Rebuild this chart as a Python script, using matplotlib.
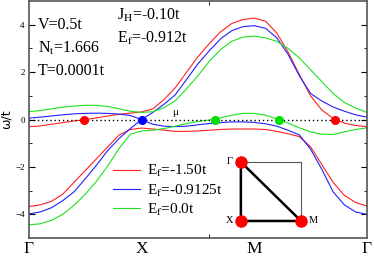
import matplotlib
matplotlib.use("Agg")
import matplotlib.pyplot as plt
from matplotlib.lines import Line2D
import numpy as np

plt.rcParams['font.family'] = ['Liberation Serif', 'DejaVu Serif']
plt.rcParams['mathtext.fontset'] = 'stix'

# k-path: Gamma=0, X=1, M=2, Gamma=3
k = [0.0, 0.1, 0.2, 0.3, 0.4, 0.5, 0.6, 0.7, 0.8, 0.9, 1.0,
     1.1, 1.2, 1.3, 1.4, 1.5, 1.6, 1.7, 1.8, 1.9, 2.0,
     2.1, 2.2, 2.3, 2.4, 2.5, 2.6, 2.7, 2.8, 2.9, 3.0]

# Ef = -1.50t
red_low = [-3.67, -3.6, -3.45, -3.15, -2.65, -2.15, -1.65, -1.15, -0.65, -0.42, -0.36,
           -0.4, -0.45, -0.5, -0.5, -0.48, -0.45, -0.42, -0.4, -0.4, -0.4,
           -0.42, -0.5, -0.6, -0.72, -1.15, -1.9, -2.65, -3.2, -3.5, -3.65]
red_up = [-0.3, -0.27, -0.2, -0.13, -0.06, 0.0, 0.07, 0.15, 0.22, 0.27, 0.32,
          0.45, 0.85, 1.35, 2.0, 2.65, 3.2, 3.7, 4.05, 4.22, 4.28,
          4.15, 3.65, 2.85, 1.9, 1.0, 0.4, 0.05, -0.15, -0.25, -0.3]
# Ef = -0.9125t
blue_a = [-3.98, -3.9, -3.72, -3.42, -3.05, -2.5, -1.92, -1.3, -0.8, -0.38, 0.0,
          0.3, 0.65, 1.05, 1.7, 2.35, 2.9, 3.4, 3.75, 3.92, 3.96,
          3.85, 3.45, 2.75, 1.85, 1.1, 0.78, 0.53, 0.35, 0.2, 0.1]
blue_b = [0.06, 0.1, 0.15, 0.2, 0.24, 0.26, 0.27, 0.26, 0.23, 0.17, 0.0,
          -0.2, -0.28, -0.3, -0.28, -0.22, -0.17, -0.13, -0.1, -0.1, -0.12,
          -0.18, -0.28, -0.45, -0.65, -1.25, -2.1, -3.05, -3.6, -3.9, -4.0]
# Ef = 0.0t
green_low = [-4.44, -4.4, -4.25, -4.0, -3.62, -3.15, -2.6, -1.95, -1.22, -0.62, -0.48,
             -0.45, -0.38, -0.28, -0.17, -0.08, -0.02, 0.07, 0.18, 0.26, 0.26,
             0.18, 0.03, -0.15, -0.35, -0.52, -0.62, -0.63, -0.52, -0.42, -0.35]
green_up = [0.33, 0.38, 0.45, 0.52, 0.57, 0.6, 0.6, 0.55, 0.45, 0.35, 0.3,
            0.33, 0.5, 0.8, 1.3, 1.85, 2.45, 2.95, 3.3, 3.48, 3.52,
            3.45, 3.3, 3.0, 2.6, 2.1, 1.6, 1.1, 0.72, 0.48, 0.3]

fermi_red = [0.49, 2.72]
fermi_blue = [1.0]
fermi_green = [1.65, 2.22]

path_labels = ['Γ', 'X', 'M', 'Γ']
path_pos = [0, 1, 2, 3]
legend_labels = [r'E$_{\rm f}$=-1.50t', r'E$_{\rm f}$=-0.9125t', r'E$_{\rm f}$=0.0t']

fig = plt.figure(figsize=(3.74, 2.61), dpi=100)
ax = fig.add_axes([0.0775, 0.088, 0.9035, 0.908])

red, blue, green = '#ff2020', '#2020ff', '#20e020'
lw = 0.8
ax.plot(k, red_low, color=red, lw=lw)
ax.plot(k, red_up, color=red, lw=lw)
ax.plot(k, blue_a, color=blue, lw=lw)
ax.plot(k, blue_b, color=blue, lw=lw)
ax.plot(k, green_low, color=green, lw=lw)
ax.plot(k, green_up, color=green, lw=lw)

ax.axhline(0, color='black', ls=(0, (1, 2)), lw=1.0)
ax.plot(fermi_red, [0] * len(fermi_red), 'o', color='#ff0000', ms=5.5, zorder=5)
ax.plot(fermi_blue, [0] * len(fermi_blue), 'o', color='#0000ff', ms=5.5, zorder=5)
ax.plot(fermi_green, [0] * len(fermi_green), 'o', color='#00e000', ms=5.5, zorder=5)

ax.set_xlim(0, 3)
ax.set_ylim(-5, 5)
ax.set_yticks([-4, -2, 0, 2, 4])
ax.set_yticks([-3, -1, 1, 3], minor=True)
ax.set_xticks(path_pos)
ax.set_xticklabels(path_labels, fontsize=12.5)
ax.set_xticks([1.6], minor=True)
ax.tick_params(axis='x', which='major', length=0, pad=2)
ax.tick_params(axis='x', which='minor', direction='in', length=3, top=True)
ax.tick_params(axis='y', which='both', direction='in', right=True, labelsize=6.5, pad=3)
ax.tick_params(axis='y', which='major', length=4)
ax.tick_params(axis='y', which='minor', length=2.5)
for s in ax.spines.values():
    s.set_color('#555555')
    s.set_linewidth(1.2)

ax.set_ylabel('ω/t', family='DejaVu Sans', fontsize=9, labelpad=2)

fs = 11.5
ax.text(0.08, 3.98, 'V=0.5t', fontsize=fs, va='center')
ax.text(0.08, 3.02, r'N$_{\rm t}$=1.666', fontsize=fs, va='center')
ax.text(0.08, 2.06, 'T=0.0001t', fontsize=fs, va='center')
ax.text(0.78, 4.4, r'J$_{\rm H}$=-0.10t', fontsize=fs, va='center')
ax.text(0.78, 3.44, r'E$_{\rm f}$=-0.912t', fontsize=fs, va='center')
ax.text(1.27, 0.3, 'μ', fontsize=8, va='center')

handles = [Line2D([], [], color=c, lw=lw) for c in (red, blue, green)]
ax.legend(handles, legend_labels, loc='upper left', bbox_to_anchor=(0.248, 0.315),
          frameon=False, fontsize=11, handlelength=1.75, handletextpad=0.5,
          labelspacing=0.2, borderpad=0, borderaxespad=0)

# Brillouin zone inset
ins = ax.inset_axes([0.627, 0.072, 0.178, 0.249])
ins.set_xlim(0, 1)
ins.set_ylim(0, 1)
ins.axis('off')
ins.plot([0, 1, 1], [1, 1, 0], color='#555555', lw=0.8, clip_on=False)
ins.plot([0, 0, 1, 0], [1, 0, 0, 1], color='black', lw=1.8, clip_on=False)
ins.plot([0, 0, 1], [1, 0, 0], 'o', color='#ff0000', ms=8, clip_on=False, zorder=5)
ins.text(-0.13, 1.0, 'Γ', fontsize=7.5, ha='right', va='center')
ins.text(-0.13, 0.0, 'X', fontsize=7.5, ha='right', va='center')
ins.text(1.13, 0.0, 'M', fontsize=7.5, ha='left', va='center')

fig.savefig('out.png', dpi=100)
